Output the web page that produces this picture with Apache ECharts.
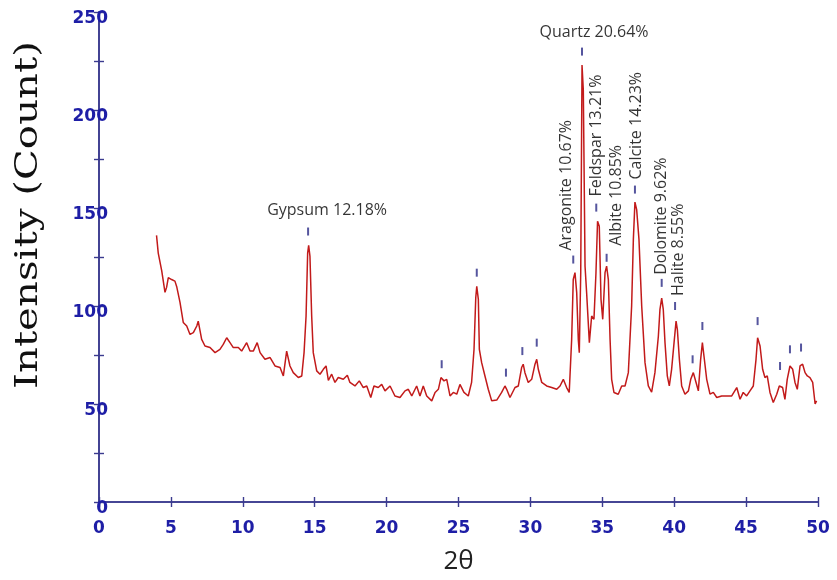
<!DOCTYPE html>
<html>
<head>
<meta charset="utf-8">
<script src="https://cdn.jsdelivr.net/npm/echarts@6/dist/echarts.min.js"></script>
<style>
html,body{margin:0;padding:0;background:#fff;}
#way{width:837px;height:580px;}
</style>
</head>
<body>
<div id="way"></div>
<script>
// 衍射角 2θ 与计数
var twoTheta = [4.0,4.12,4.36,4.59,4.7,4.82,5.05,5.28,5.4,5.63,5.86,6.1,6.33,6.56,6.8,6.9,7.14,7.37,7.72,8.07,
	8.41,8.64,8.88,9.11,9.34,9.69,9.92,10.27,10.5,10.73,11.0,11.2,11.54,11.9,12.24,12.59,12.82,13.05,13.28,13.51,
	13.86,14.1,14.26,14.4,14.51,14.58,14.67,14.79,14.9,15.14,15.37,15.6,15.79,15.95,16.18,16.41,16.64,16.99,17.27,17.45,
	17.8,18.1,18.38,18.62,18.9,19.12,19.42,19.66,19.89,20.24,20.58,20.93,21.28,21.51,21.75,22.09,22.32,22.55,22.79,23.14,
	23.37,23.6,23.78,23.99,24.18,24.41,24.64,24.88,25.1,25.38,25.68,25.91,26.08,26.2,26.27,26.38,26.45,26.61,26.84,27.07,
	27.31,27.66,28.0,28.23,28.35,28.58,28.93,29.16,29.39,29.5,29.62,29.85,30.09,30.32,30.44,30.55,30.79,31.13,31.48,31.83,
	32.06,32.29,32.52,32.7,32.87,32.98,33.1,33.22,33.33,33.4,33.5,33.59,33.68,33.8,33.91,34.1,34.26,34.42,34.56,34.67,
	34.79,34.91,35.03,35.19,35.3,35.42,35.54,35.65,35.81,36.11,36.35,36.58,36.81,37.04,37.16,37.27,37.39,37.55,37.74,37.97,
	38.2,38.43,38.66,38.9,39.01,39.13,39.24,39.36,39.52,39.66,39.82,39.99,40.13,40.22,40.36,40.52,40.75,40.99,41.15,41.33,
	41.52,41.68,41.84,41.96,42.07,42.26,42.49,42.72,42.96,43.3,43.65,44.0,44.35,44.58,44.8,45.04,45.27,45.5,45.69,45.8,
	45.97,46.15,46.31,46.47,46.66,46.89,47.13,47.31,47.54,47.7,47.86,48.05,48.24,48.4,48.56,48.75,48.93,49.1,49.26,49.44,
	49.63,49.8,49.9];
var counts = [136,127,118,107,109.5,114.5,113.5,112.7,110,102,91.6,89.8,85.5,86.4,89.8,92.3,83,79.6,78.8,76.2,
	77.9,80.4,83.8,81.3,78.8,78.8,77,81.3,77,77,81.3,76.2,72.8,73.7,69.4,68.6,64.3,77,69.4,66,
	63.5,64.3,76.2,94.9,127,131,125.4,94.9,76.2,66.9,65.2,67.7,69.4,62,65.2,61,63.5,62.6,64.7,61,
	59.2,61.8,58.4,59.2,53.3,59.2,58.4,60,56.7,59.2,54.1,53.3,56.7,57.5,54.1,59.2,54.1,59.2,54.1,51.6,
	55.9,57.5,63.5,61.8,62.6,54.1,55.9,55,60,55.9,54.1,61,77.9,104.2,110,103.4,77.9,71.1,64.3,57.5,
	51.6,52,55.9,59.2,57.5,53.3,58.4,59.2,68.6,70.3,66,61,62.6,70.3,72.8,67.7,61,59.2,58.4,57.5,
	59.2,62.6,58.4,55.9,83,113.5,117,106.8,83,76.2,117,223,210,120.3,106.8,81.3,94.9,93.2,117,143.2,
	140.7,103.4,93.2,117,120.3,113.5,83,62.6,55.9,55,59.2,59.2,66,100,134,153,149.2,134,100,71.1,
	59.2,56,66,84.7,98.3,104,98.3,81.3,64.3,59.2,67.7,81.3,92.3,88,72.8,59.2,55,56.7,62.6,66,
	61,56.7,72.8,81.3,74.5,62.6,55,55.9,53.3,54.1,54.1,54.1,58.4,52.4,55.9,54.1,56.7,59.2,72.8,83.8,
	79.6,67.7,63.5,64.3,55.9,50.8,55,59.2,58.4,52.4,62.6,69.4,67.7,61,57.5,69.4,70.3,66,64.3,63.5,
	61,50,51.6];

// 物相标记
var peakTheta = [14.54,23.83,26.27,28.3,29.44,30.44,32.98,33.59,34.58,35.3,37.27,39.13,40.06,41.28,41.96,45.8,47.36,48.05,48.82];
var peakCounts = [138,70.3,117,66,77,81.3,123.7,229.8,150.2,124.6,159.4,111.8,100,72.8,89.8,92.3,69.4,77.9,78.8];
var peakLabels = ['Gypsum 12.18%','','','','','','Aragonite 10.67%','Quartz 20.64%','Feldspar 13.21%','Albite 10.85%',
	'Calcite 14.23%','Dolomite 9.62%','Halite 8.55%','','','','','',''];

var axisBlue = '#3b3b8f';
var labelBlue = '#1e1ea6';

// 标签相对位置（相对于刻度符号左上角）
var labelPos = {
	'Gypsum 12.18%': {pos: [20, -9], flat: true},
	'Quartz 20.64%': {pos: [13, -7], flat: true},
	'Aragonite 10.67%': {pos: [-6, -5]},
	'Feldspar 13.21%': {pos: [1, -7]},
	'Albite 10.85%': {pos: [11, -8]},
	'Calcite 14.23%': {pos: [2, -6]},
	'Dolomite 9.62%': {pos: [1, -4]},
	'Halite 8.55%': {pos: [4, -6]}
};

var lineData = twoTheta.map(function(x, i){ return [x, counts[i]]; });
var peakData = peakTheta.map(function(x, i){
	var name = peakLabels[i];
	var item = {value: [x, peakCounts[i]]};
	if (name) {
		var lp = labelPos[name];
		item.label = {
			show: true,
			formatter: name,
			position: lp.pos,
			rotate: lp.flat ? 0 : 90,
			align: lp.flat ? 'center' : 'left',
			verticalAlign: lp.flat ? 'bottom' : 'middle',
			fontFamily: 'Open Sans',
			fontSize: 16,
			color: '#000'
		};
	}
	return item;
});

var myChart = echarts.init(document.getElementById('way'));
var option = {
	animation: false,
	backgroundColor: '#fff',
	grid: {left: 99, right: 19, top: 12, bottom: 77, show: false},
	xAxis: [{
		type: 'value', min: 0, max: 50, interval: 5,
		name: '2θ', nameLocation: 'middle', nameGap: 47,
		nameTextStyle: {fontFamily: 'Open Sans', fontSize: 26, color: '#222'},
		axisLine: {show: true, lineStyle: {color: axisBlue, width: 1.6}},
		axisTick: {show: true, inside: true, length: 5, lineStyle: {color: axisBlue, width: 1.4}},
		axisLabel: {margin: 18, fontFamily: 'DejaVu Sans', fontWeight: 'bold', fontSize: 17, color: labelBlue},
		splitLine: {show: false}
	}, {
		type: 'value', min: 0, max: 50, interval: 5, position: 'top',
		axisLine: {show: true, lineStyle: {color: axisBlue, width: 1.6}},
		axisTick: {show: true, inside: true, length: 5, lineStyle: {color: axisBlue, width: 1.4}},
		axisLabel: {show: false},
		splitLine: {show: false}
	}],
	yAxis: [{
		type: 'value', min: 0, max: 250, interval: 25,
		axisLine: {show: true, lineStyle: {color: axisBlue, width: 1.6}},
		axisTick: {show: true, inside: true, length: 5, lineStyle: {color: axisBlue, width: 1.4}},
		axisLabel: {
			margin: -9, fontFamily: 'DejaVu Sans', fontWeight: 'bold', fontSize: 17, color: labelBlue,
			verticalAlign: 'top', lineHeight: 14,
			formatter: function(v){ return v % 50 === 0 ? String(v) : ''; }
		},
		splitLine: {show: false}
	}, {
		type: 'value', min: 0, max: 250, interval: 25, position: 'right',
		axisLine: {show: true, lineStyle: {color: axisBlue, width: 1.6}},
		axisTick: {show: true, inside: true, length: 5, lineStyle: {color: axisBlue, width: 1.4}},
		axisLabel: {show: false},
		splitLine: {show: false}
	}],
	graphic: [{
		type: 'text',
		x: 29, y: 215,
		rotation: Math.PI / 2,
		scaleX: 1.26,
		style: {
			text: 'Intensity (Count)',
			font: '32px "DejaVu Serif"',
			fill: '#111',
			textAlign: 'center',
			textVerticalAlign: 'middle'
		}
	}],
	series: [{
		type: 'line',
		data: lineData,
		showSymbol: false,
		lineStyle: {color: '#c21a1a', width: 1.5},
		z: 2
	}, {
		type: 'scatter',
		data: peakData,
		symbol: 'rect',
		symbolSize: [2, 8],
		itemStyle: {color: '#2a2a86'},
		z: 3
	}]
};
myChart.setOption(option);
</script>
</body>
</html>
